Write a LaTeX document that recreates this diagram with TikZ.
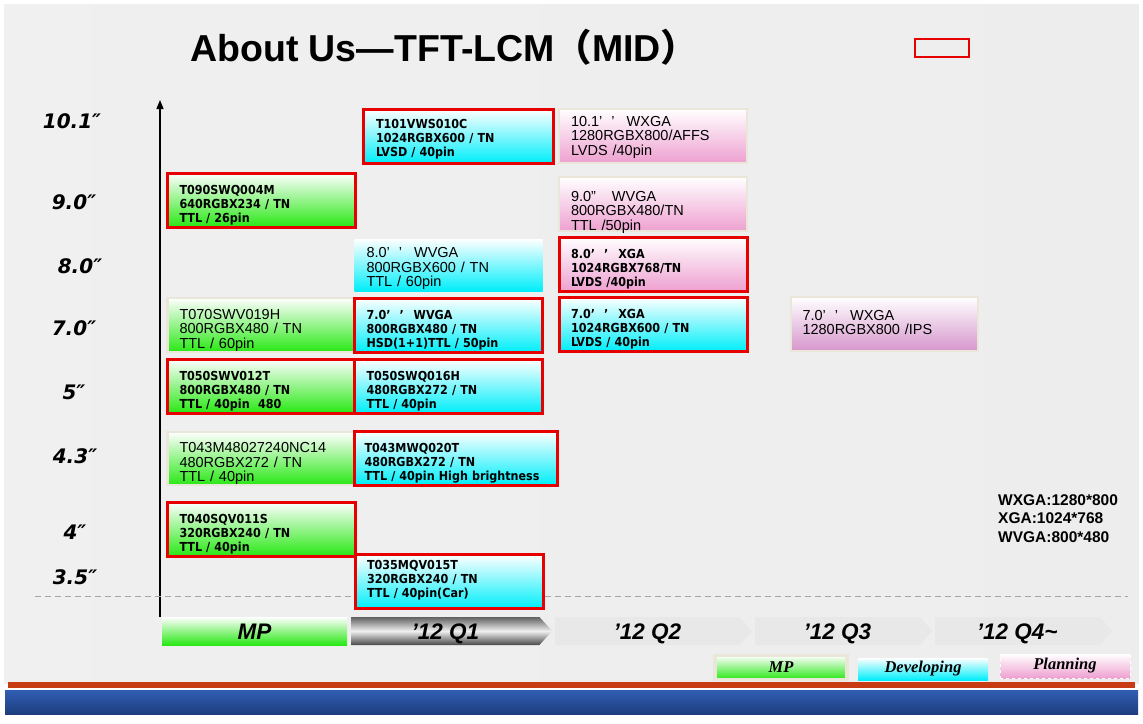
\documentclass[tikz,border=0pt]{standalone}
\usepackage{fontspec}
\setmainfont{Liberation Sans}
\newfontfamily\condfont{DejaVu Sans Condensed}
\newfontfamily\dejafont{DejaVu Sans}
\newfontfamily\legfont{Liberation Serif}
\newfontfamily\cjk{Noto Sans CJK SC}
\usetikzlibrary{shapes.symbols,arrows.meta}
\definecolor{hotred}{RGB}{230,0,0}
\definecolor{mpgreen}{RGB}{40,232,20}
\definecolor{devcyan}{RGB}{0,238,250}
\definecolor{planpink}{RGB}{238,160,208}
\definecolor{mauve}{RGB}{214,150,204}
\definecolor{softline}{RGB}{234,230,218}
\definecolor{qgray}{RGB}{232,232,232}
\definecolor{bandred}{RGB}{200,60,20}
\definecolor{bandblue}{RGB}{48,94,178}
\definecolor{deepblue}{RGB}{30,62,128}
\tikzset{
  panel/.style={
    inner sep = 0pt,
    minimum width = 188pt,
    minimum height = 54pt,
    text width = 164pt,
    align = left
  },
  % first baseline sits (depth-height)/2 above the centre
  specbold/.style={
    font=\condfont\bfseries\fontsize{12.4}{14}\selectfont,
    text height=17pt, text depth=29pt
  },
  specplain/.style={
    font=\fontsize{14.5}{14.5}\selectfont,
    text height=19pt, text depth=31pt
  },
  hot/.style={draw=hotred, line width=3pt},
  soft/.style={draw=softline, line width=2.5pt},
  mp/.style={top color=white, bottom color=mpgreen},
  dev/.style={top color=white, bottom color=devcyan},
  plan/.style={top color=white, bottom color=planpink},
  quarter/.style={
    signal, signal to=east, signal pointer angle=95,
    anchor=west, minimum height=28pt, inner sep=0pt,
    text height=16pt, text depth=0pt,
    font=\bfseries\itshape\fontsize{22.5}{22.5}\selectfont
  },
  sizelabel/.style={font=\dejafont\bfseries\itshape\fontsize{20}{20}\selectfont},
  legend/.style={
    minimum height=24pt, inner sep=0pt,
    font=\legfont\bfseries\itshape\fontsize{16.5}{16.5}\selectfont
  }
}

\begin{document}
\begin{tikzpicture}[x=1pt,y=-1pt]
  \useasboundingbox (0,0) rectangle (1143,723);
  % slide background and bands
  \fill[left color=black!6, middle color=white, right color=black!7] (4,4) rectangle (1139,683);
  \fill[bandred] (8,682) rectangle (1135,688);
  \fill[top color=bandblue, bottom color=deepblue] (5,690) rectangle (1138,714);

  \node[anchor=base west, inner sep=0pt, font=\bfseries\fontsize{37.5}{37.5}\selectfont] (title) at (190,61)
    {About Us—TFT-LCM{\cjk （}MID{\cjk ）}};
  \node[draw=hotred, line width=2.5pt, minimum width=54pt, minimum height=18pt, inner sep=0pt] (tag) at (942,48) {};

  % size axis
  \coordinate (ybot) at (160,617);
  \coordinate (ytop) at (160,100);
  \draw[-{Triangle[length=9pt,width=7pt]}, line width=1.3pt] (ybot) -- (ytop);
  \coordinate (dl) at (35,596);
  \coordinate (dr) at (1128,596);
  \draw[black!35, dash pattern=on 6pt off 4pt, line width=1pt] (dl) -- (dr);

  \node[sizelabel] (s101) at (72,121) {10.1″};
  \node[sizelabel] (s90) at (74,202) {9.0″};
  \node[sizelabel] (s80) at (80,266) {8.0″};
  \node[sizelabel] (s70) at (74,328) {7.0″};
  \node[sizelabel] (s50) at (74,392) {5″};
  \node[sizelabel] (s43) at (75,456) {4.3″};
  \node[sizelabel] (s40) at (75,532) {4″};
  \node[sizelabel] (s35) at (75,577) {3.5″};

  % MP column
  \node[panel, specbold, mp, hot] (t090) at (261.5,200) {T090SWQ004M\\640RGBX234 / TN\\TTL / 26pin};
  \node[panel, specplain, mp, soft] (t070) at (261.5,325) {T070SWV019H\\800RGBX480 / TN\\TTL / 60pin};
  \node[panel, specbold, mp, hot] (t050a) at (261.5,386) {T050SWV012T\\800RGBX480 / TN\\TTL / 40pin\ \ 480};
  \node[panel, specplain, mp, soft, minimum height=53pt] (t043a) at (261.5,458.5) {T043M48027240NC14\\480RGBX272 / TN\\TTL / 40pin};
  \node[panel, specbold, mp, hot] (t040) at (261.5,529) {T040SQV011S\\320RGBX240 / TN\\TTL / 40pin};

  % Q1 column
  \node[panel, specbold, dev, hot, minimum width=190pt, text height=15pt, text depth=31pt] (t101) at (458,136) {T101VWS010C\\1024RGBX600 / TN\\LVSD / 40pin};
  \node[panel, specplain, dev, minimum height=52pt, text height=18pt, text depth=33pt] (w80) at (448.5,265) {8.0’\hspace{9pt}’\hspace{12pt}WVGA\\800RGBX600 / TN\\TTL / 60pin};
  \node[panel, specbold, dev, hot] (w70) at (448.5,325) {7.0’\hspace{9pt}’\hspace{10pt}WVGA\\800RGBX480 / TN\\HSD(1+1)TTL / 50pin};
  \node[panel, specbold, dev, hot] (t050b) at (448.5,386) {T050SWQ016H\\480RGBX272 / TN\\TTL / 40pin};
  \node[panel, specbold, dev, hot, minimum width=203pt, text width=182pt] (t043b) at (455.5,458) {T043MWQ020T\\480RGBX272 / TN\\TTL / 40pin High brightness};
  \node[panel, specbold, dev, hot, text height=10pt, text depth=35pt] (t035) at (449,581.5) {T035MQV015T\\320RGBX240 / TN\\TTL / 40pin(Car)};

  % Q2 column
  \node[panel, specplain, plan, soft, text height=15pt, text depth=35pt] (x101) at (653,136) {10.1’\hspace{9pt}’\hspace{12pt}WXGA\\1280RGBX800/AFFS\\LVDS /40pin};
  \node[panel, specplain, plan, soft, text height=22pt, text depth=28pt] (v90) at (653,204) {9.0”\hspace{16pt}WVGA\\800RGBX480/TN\\TTL /50pin};
  \node[panel, specbold, plan, hot] (x80) at (653,264) {8.0’\hspace{9pt}’\hspace{10pt}XGA\\1024RGBX768/TN\\LVDS /40pin};
  \node[panel, specbold, dev, hot] (x70) at (653,324) {7.0’\hspace{9pt}’\hspace{10pt}XGA\\1024RGBX600 / TN\\LVDS / 40pin};

  % Q3 column
  \node[panel, specplain, top color=white, bottom color=mauve, soft, minimum width=187pt, text height=14pt, text depth=22pt] (wx70) at (884.5,324) {7.0’\hspace{9pt}’\hspace{12pt}WXGA\\1280RGBX800 /IPS};

  \node[anchor=north west, align=left, inner sep=0pt, font=\bfseries\fontsize{15.5}{18.5}\selectfont] (reskey) at (998,494)
    {WXGA:1280*800\\XGA:1024*768\\WVGA:800*480};

  % time line
  \node[mp, minimum width=185pt, minimum height=28pt, inner sep=0pt, text height=16pt, text depth=0pt, font=\bfseries\itshape\fontsize{22.5}{22.5}\selectfont] (mpbar) at (254.5,631) {MP};
  \node[quarter, top color=black!62, bottom color=black!72, middle color=black!6, minimum width=201pt] (q1) at (351,631) {’12 Q1};
  \node[quarter, fill=qgray, minimum width=197pt] (q2) at (555,631) {’12 Q2};
  \node[quarter, fill=qgray, minimum width=177pt] (q3) at (755,631) {’12 Q3};
  \node[quarter, fill=qgray, minimum width=177pt] (q4) at (935,631) {’12 Q4\textasciitilde};

  % legend
  \node[legend, mp, draw=softline, line width=3.5pt, minimum width=132pt] (lmp) at (781,667.5) {MP};
  \node[legend, dev, minimum width=130pt, minimum height=22pt] (ldev) at (923,669) {Developing};
  \node[legend, plan, draw=white, dashed, minimum width=130pt] (lplan) at (1065,666) {Planning};
\end{tikzpicture}
\end{document}
